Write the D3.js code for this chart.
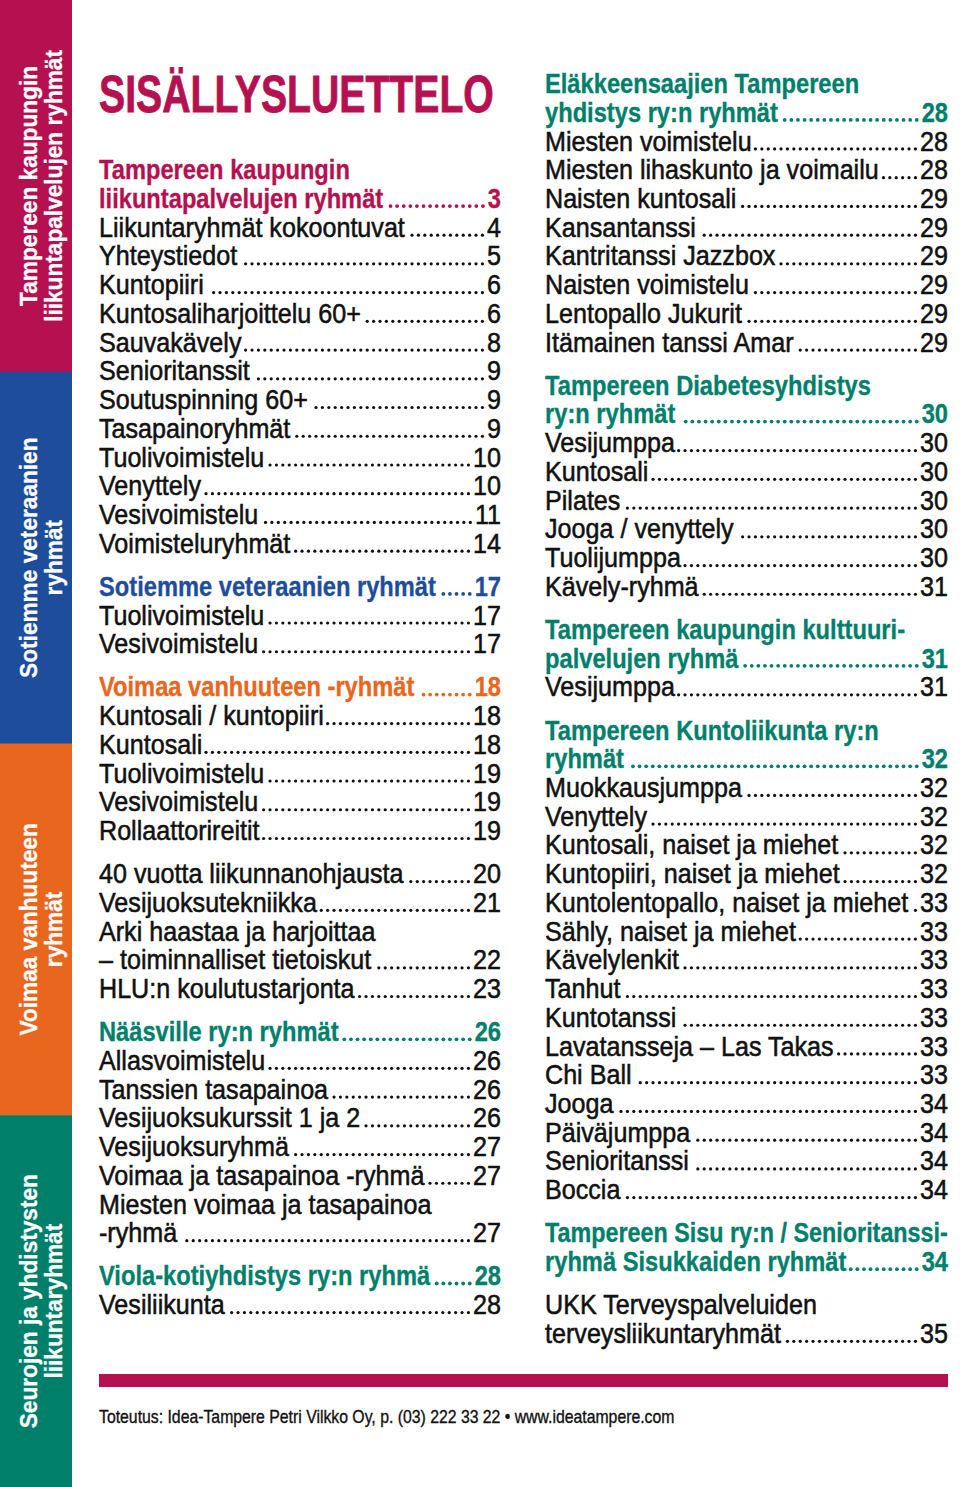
<!DOCTYPE html>
<html>
<head>
<meta charset="utf-8">
<script src="https://cdn.jsdelivr.net/npm/d3@7"></script>
<style>
body { margin: 0; background: #fff; }
svg { display: block; }
text { font-family: "Liberation Sans", Arial, "Roboto", sans-serif; }
</style>
</head>
<body>
<div class="chart"></div>
<script>
// page setup
var width = 960;
var height = 1487;

// sidebar sections
var sideLabels = [
  ["Tampereen kaupungin", "liikuntapalvelujen ryhmät"],
  ["Sotiemme veteraanien", "ryhmät"],
  ["Voimaa vanhuuteen", "ryhmät"],
  ["Seurojen ja yhdistysten", "liikuntaryhmät"]
];
var sideColors = ["#b5104f", "#1e4e9b", "#e9661e", "#00806b"];

var titleText = "SISÄLLYSLUETTELO";
var footerText = "Toteutus: Idea-Tampere Petri Vilkko Oy, p. (03) 222 33 22 • www.ideatampere.com";

// [text, page, heading colour index]; null = small gap
var leftEntries = [
  ["Tampereen kaupungin", null, 0],
  ["liikuntapalvelujen ryhmät", "3", 0],
  ["Liikuntaryhmät kokoontuvat", "4"],
  ["Yhteystiedot", "5"],
  ["Kuntopiiri", "6"],
  ["Kuntosaliharjoittelu 60+", "6"],
  ["Sauvakävely", "8"],
  ["Senioritanssit", "9"],
  ["Soutuspinning 60+", "9"],
  ["Tasapainoryhmät", "9"],
  ["Tuolivoimistelu", "10"],
  ["Venyttely", "10"],
  ["Vesivoimistelu", "11"],
  ["Voimisteluryhmät", "14"],
  null,
  ["Sotiemme veteraanien ryhmät", "17", 1],
  ["Tuolivoimistelu", "17"],
  ["Vesivoimistelu", "17"],
  null,
  ["Voimaa vanhuuteen -ryhmät", "18", 2],
  ["Kuntosali / kuntopiiri", "18"],
  ["Kuntosali", "18"],
  ["Tuolivoimistelu", "19"],
  ["Vesivoimistelu", "19"],
  ["Rollaattorireitit", "19"],
  null,
  ["40 vuotta liikunnanohjausta", "20"],
  ["Vesijuoksutekniikka", "21"],
  ["Arki haastaa ja harjoittaa", null],
  ["– toiminnalliset tietoiskut", "22"],
  ["HLU:n koulutustarjonta", "23"],
  null,
  ["Nääsville ry:n ryhmät", "26", 3],
  ["Allasvoimistelu", "26"],
  ["Tanssien tasapainoa", "26"],
  ["Vesijuoksukurssit 1 ja 2", "26"],
  ["Vesijuoksuryhmä", "27"],
  ["Voimaa ja tasapainoa -ryhmä", "27"],
  ["Miesten voimaa ja tasapainoa", null],
  ["-ryhmä", "27"],
  null,
  ["Viola-kotiyhdistys ry:n ryhmä", "28", 3],
  ["Vesiliikunta", "28"]
];

var rightEntries = [
  ["Eläkkeensaajien Tampereen", null, 3],
  ["yhdistys ry:n ryhmät", "28", 3],
  ["Miesten voimistelu", "28"],
  ["Miesten lihaskunto ja voimailu", "28"],
  ["Naisten kuntosali", "29"],
  ["Kansantanssi", "29"],
  ["Kantritanssi Jazzbox", "29"],
  ["Naisten voimistelu", "29"],
  ["Lentopallo Jukurit", "29"],
  ["Itämainen tanssi Amar", "29"],
  null,
  ["Tampereen Diabetesyhdistys", null, 3],
  ["ry:n ryhmät", "30", 3],
  ["Vesijumppa", "30"],
  ["Kuntosali", "30"],
  ["Pilates", "30"],
  ["Jooga / venyttely", "30"],
  ["Tuolijumppa", "30"],
  ["Kävely-ryhmä", "31"],
  null,
  ["Tampereen kaupungin kulttuuri-", null, 3],
  ["palvelujen ryhmä", "31", 3],
  ["Vesijumppa", "31"],
  null,
  ["Tampereen Kuntoliikunta ry:n", null, 3],
  ["ryhmät", "32", 3],
  ["Muokkausjumppa", "32"],
  ["Venyttely", "32"],
  ["Kuntosali, naiset ja miehet", "32"],
  ["Kuntopiiri, naiset ja miehet", "32"],
  ["Kuntolentopallo, naiset ja miehet", "33"],
  ["Sähly, naiset ja miehet", "33"],
  ["Kävelylenkit", "33"],
  ["Tanhut", "33"],
  ["Kuntotanssi", "33"],
  ["Lavatansseja – Las Takas", "33"],
  ["Chi Ball", "33"],
  ["Jooga", "34"],
  ["Päiväjumppa", "34"],
  ["Senioritanssi", "34"],
  ["Boccia", "34"],
  null,
  ["Tampereen Sisu ry:n / Senioritanssi-", null, 3],
  ["ryhmä Sisukkaiden ryhmät", "34", 3],
  null,
  ["UKK Terveyspalveluiden", null],
  ["terveysliikuntaryhmät", "35"]
];

const svg = d3.select(".chart")
  .append("svg")
  .attr("width", width)
  .attr("height", height);

// row -> vertical centre of a line
var yScale = d3.scaleLinear().domain([0, 43.5]).range([83, 1332.8]);
var fs = 28;
var capH = fs * 0.72;

function natural(str, size, weight) {
  var t = svg.append("text").attr("font-size", size).attr("font-weight", weight).text(str);
  var w = t.node().getComputedTextLength();
  t.remove();
  return w;
}
// horizontal squeeze so the normal font looks like the condensed original
var stretch = 306 / natural("Liikuntaryhmät kokoontuvat", fs, 400);
var stretchBold = 251 / natural("Tampereen kaupungin", fs, 700);
var stretchSide = 272 / natural("liikuntapalvelujen ryhmät", 24, 700);

// draws squeezed text
function squeezed(parent, str, x, y, size, weight, fill, k) {
  return parent.append("text")
    .attr("transform", "translate(" + x + "," + y + ") scale(" + k + ",1)")
    .attr("font-size", size)
    .attr("font-weight", weight)
    .attr("fill", fill)
    .attr("stroke", fill)
    .attr("stroke-width", weight === 400 ? 0.55 : 0.35)
    .text(str);
}

// sidebar
var band = d3.scaleBand().domain(d3.range(sideLabels.length)).range([0, height]);
var side = svg.append("g").attr("id", "sidebar");
side.selectAll("rect")
  .data(sideLabels)
  .enter()
  .append("rect")
  .attr("x", 0)
  .attr("y", (d, i) => band(i))
  .attr("width", 72)
  .attr("height", band.bandwidth() + 0.5)
  .attr("fill", (d, i) => sideColors[i]);

sideLabels.forEach(function(lines, i) {
  var cy = band(i) + band.bandwidth() / 2;
  lines.forEach(function(l, j) {
    var w = natural(l, 24, 700);
    side.append("text")
      .attr("transform", "translate(" + (37 + j * 25) + "," + cy + ") rotate(-90) scale(" + stretchSide + ",1)")
      .attr("x", -w / 2)
      .attr("y", 0)
      .attr("font-size", 24)
      .attr("font-weight", 700)
      .attr("fill", "#fff")
      .attr("stroke", "#fff")
      .attr("stroke-width", 0.3)
      .text(l);
  });
});

// title
var titleK = 395 / natural(titleText, 52, 700);
squeezed(svg, titleText, 99, 112, 52, 700, sideColors[0], titleK).attr("stroke-width", 0.8);

function drawColumn(entries, x0, x1, startRow) {
  var row = startRow;
  var col = svg.append("g");
  entries.forEach(function(e) {
    if (e === null) { row += 0.5; return; }
    var base = yScale(row) + capH / 2;
    var head = e[2] !== undefined;
    var fill = head ? sideColors[e[2]] : "#111";
    var weight = head ? 700 : 400;
    var k = head ? stretchBold : stretch;
    var g = col.append("g").attr("class", "entry");
    var nat = natural(e[0], fs, weight);
    var w = nat * k;
    var room = e[1] != null ? (x1 - x0 - 34) : (x1 - x0);
    var kk = k;
    if (w > room) { w = room; kk = room / nat; }
    squeezed(g, e[0], x0, base, fs, weight, fill, kk);
    if (e[1] != null) {
      var pw = natural(e[1], fs, weight) * k;
      squeezed(g, e[1], x1 - pw, base, fs, weight, fill, k);
      // dotted leader
      var pitch = head ? 6.6 : 6.4;
      var r = head ? 1.9 : 1.6;
      var end = x1 - pw - 3 - r;
      var start = x0 + w + 2 + r;
      var n = Math.max(0, Math.floor((end - start) / pitch) + 1);
      g.selectAll("circle")
        .data(d3.range(n))
        .enter()
        .append("circle")
        .attr("cx", d => end - d * pitch)
        .attr("cy", base - r)
        .attr("r", r)
        .attr("fill", fill);
    }
    row += 1;
  });
}

drawColumn(leftEntries, 99, 501, 3);
drawColumn(rightEntries, 545, 948, 0);

// bottom rule and footer
svg.append("rect")
  .attr("x", 99)
  .attr("y", 1374)
  .attr("width", 849)
  .attr("height", 13)
  .attr("fill", sideColors[0]);

var footK = 576 / natural(footerText, 18, 400);
squeezed(svg, footerText, 99, 1423, 18, 400, "#111", footK).attr("stroke-width", 0.35);
</script>
</body>
</html>
